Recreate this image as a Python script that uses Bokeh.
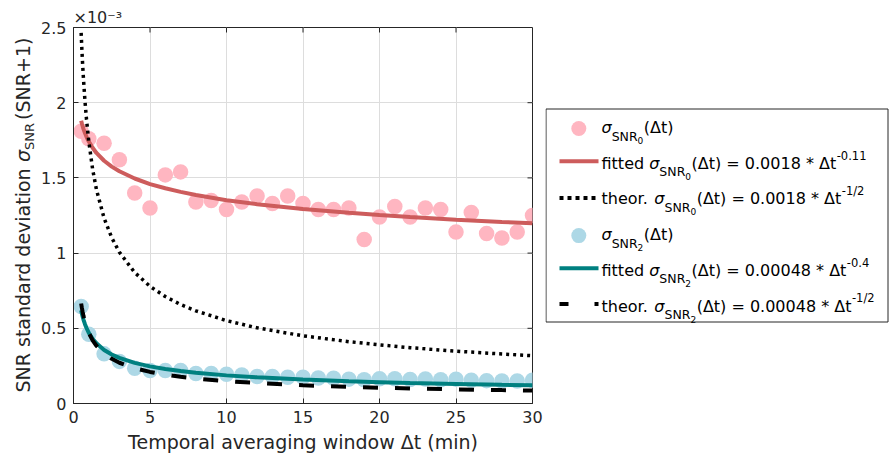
import math
from bokeh.plotting import figure
from bokeh.models import Range1d, FixedTicker
from bokeh.layouts import row
from bokeh.core.properties import value
from bokeh.embed import file_html
from bokeh.resources import INLINE

# ---------------- data (values in units of 1e-3) ----------------
t_pts = [0.5, 1, 2, 3, 4, 5, 6, 7, 8, 9, 10, 11, 12, 13, 14, 15, 16, 17, 18, 19, 20,
         21, 22, 23, 24, 25, 26, 27, 28, 29, 30]
snr0_pts = [1.81, 1.76, 1.73, 1.62, 1.40, 1.30, 1.52, 1.54, 1.34, 1.35, 1.29, 1.34, 1.38,
            1.33, 1.38, 1.33, 1.29, 1.29, 1.30, 1.09, 1.24, 1.31, 1.24, 1.30, 1.29, 1.14,
            1.27, 1.13, 1.10, 1.14, 1.25]
snr2_pts = [0.645, 0.46, 0.33, 0.28, 0.235, 0.22, 0.22, 0.22, 0.20, 0.20, 0.195, 0.19, 0.18,
            0.18, 0.175, 0.175, 0.17, 0.168, 0.162, 0.158, 0.165, 0.165, 0.16, 0.163, 0.158,
            0.162, 0.155, 0.152, 0.15, 0.15, 0.155]

t_curve = [0.5, 0.55, 0.6, 0.65, 0.75, 0.85, 1, 1.25, 1.5, 2, 2.5, 3, 4, 5, 6, 7, 8, 10,
           12, 15, 18, 20, 22, 25, 28, 30]
fit0_curve = [1.880, 1.861, 1.843, 1.826, 1.798, 1.773, 1.742, 1.700, 1.666, 1.614, 1.575,
              1.544, 1.496, 1.459, 1.431, 1.407, 1.386, 1.352, 1.325, 1.293, 1.268, 1.253,
              1.240, 1.222, 1.207, 1.198]
theo0_curve = [2.464, 2.349, 2.249, 2.161, 2.011, 1.889, 1.742, 1.558, 1.422, 1.232, 1.102,
               1.006, 0.871, 0.779, 0.711, 0.658, 0.616, 0.551, 0.503, 0.450, 0.411, 0.390,
               0.371, 0.348, 0.329, 0.318]
fit2_curve = [0.620, 0.597, 0.577, 0.558, 0.527, 0.502, 0.470, 0.430, 0.400, 0.356, 0.326,
              0.303, 0.270, 0.247, 0.230, 0.216, 0.205, 0.187, 0.174, 0.159, 0.148, 0.142,
              0.136, 0.130, 0.124, 0.121]
theo2_curve = [0.665, 0.634, 0.607, 0.583, 0.543, 0.510, 0.470, 0.420, 0.384, 0.332, 0.297,
               0.271, 0.235, 0.210, 0.192, 0.178, 0.166, 0.149, 0.136, 0.121, 0.111, 0.105,
               0.100, 0.094, 0.089, 0.086]

x_ticks = [0, 5, 10, 15, 20, 25, 30]
y_ticks = [0, 0.5, 1, 1.5, 2, 2.5]
y_tick_labels = ["0", "0.5", "1", "1.5", "2", "2.5"]
x_label = "Temporal averaging window Δt (min)"
exponent_label = "×10⁻³"

legend_rows = [
    ("", "0", "(Δt)", ""),
    ("fitted ", "0", "(Δt) = 0.0018 * Δt", "-0.11"),
    ("theor. ", "0", "(Δt) = 0.0018 * Δt", "-1/2"),
    ("", "2", "(Δt)", ""),
    ("fitted ", "2", "(Δt) = 0.00048 * Δt", "-0.4"),
    ("theor. ", "2", "(Δt) = 0.00048 * Δt", "-1/2"),
]

PINK = "#FFB6C1"
RED = "#CD5C5C"
LBLUE = "#ADD8E6"
TEAL = "#008080"
AX = "#262626"
FONT = "DejaVu Sans"

# ---------------- layout constants ----------------
H = 460
W_YL = 36                      # strip holding the rotated y label
FL, FR, FT, FB = 73, 532, 27, 403
W_MAIN = 545 - W_YL
W_LEG = 890 - 545
PX_X = (FR - FL) / 30.0
PX_Y = (FB - FT) / 2.5

# DejaVu Sans advance widths (em)
ADV = {' ': 0.318, '(': 0.390, ')': 0.390, '*': 0.500, '+': 0.838, '-': 0.361, '.': 0.318,
       '/': 0.337, '=': 0.838, 'N': 0.748, 'R': 0.695, 'S': 0.635, 'a': 0.613, 'c': 0.550,
       'd': 0.635, 'e': 0.615, 'f': 0.352, 'h': 0.634, 'i': 0.278, 'o': 0.612, 'r': 0.411,
       't': 0.392, 'Δ': 0.684, 'σ': 0.634, 'g': 0.635, 'n': 0.634, 's': 0.521, 'v': 0.592,
       '×': 0.838}
for d in "0123456789":
    ADV[d] = 0.636

def tw(s, size):
    return sum(ADV.get(c, 0.6) for c in s) * size

def bare(fig):
    fig.grid.visible = False
    fig.outline_line_color = None
    fig.background_fill_color = "white"
    fig.border_fill_color = "white"

# side figures share the main frame's vertical extent (FT..FB); their ranges map pixels
# ---------------- y-label strip ----------------
yl = figure(width=W_YL, height=H, x_range=Range1d(0, W_YL), y_range=Range1d(H - FB, H - FT),
            output_backend="svg", toolbar_location=None, x_axis_location=None,
            y_axis_location=None, min_border_left=0, min_border_right=0,
            min_border_top=FT, min_border_bottom=H - FB)
bare(yl)
YL_MAIN, YL_SUB = 19, 13
ypos = 392.0
base_x = 22.0
pieces = [("SNR standard deviation ", YL_MAIN, "normal", 0.0, 0.0),
          ("σ", YL_MAIN, "italic", 0.0, 0.0),
          ("SNR", YL_SUB, "normal", 7.0, 3.0),
          (" (SNR+1)", YL_MAIN, "normal", 0.0, 0.0)]
for txt, sz, st, dx, extra in pieces:
    yl.text(x=[base_x + dx], y=[H - ypos], text=[txt], angle=math.pi / 2,
            text_font=value(FONT), text_font_size=value(f"{sz}px"), text_font_style=st,
            text_color=AX, text_align="left", text_baseline="alphabetic")
    ypos -= tw(txt, sz) + extra

# ---------------- main figure ----------------
p = figure(width=W_MAIN, height=H, x_range=Range1d(0, 30), y_range=Range1d(0, 2.5),
           output_backend="svg", toolbar_location=None,
           min_border_left=FL - W_YL, min_border_right=545 - FR,
           min_border_top=FT, min_border_bottom=H - FB,
           title=exponent_label)
p.background_fill_color = "white"
p.border_fill_color = "white"
p.outline_line_color = AX
p.title.text_font = FONT
p.title.text_font_size = "16px"
p.title.text_font_style = "normal"
p.title.text_color = AX
p.title.align = "left"
p.title.standoff = 2
p.title.offset = 0

for ax in (p.xaxis[0], p.yaxis[0]):
    ax.major_tick_in = 5
    ax.major_tick_out = 0
    ax.minor_tick_line_color = None
    ax.axis_line_color = AX
    ax.major_tick_line_color = AX
    ax.major_label_text_color = AX
    ax.major_label_text_font = FONT
    ax.major_label_text_font_size = "16px"
    ax.major_label_standoff = 7

p.xaxis[0].ticker = FixedTicker(ticks=x_ticks)
p.yaxis[0].ticker = FixedTicker(ticks=y_ticks)
p.yaxis[0].major_label_overrides = {t: s for t, s in zip(y_ticks, y_tick_labels)}
p.xaxis[0].axis_label = x_label
p.xaxis[0].axis_label_text_font = FONT
p.xaxis[0].axis_label_text_font_size = "19px"
p.xaxis[0].axis_label_text_font_style = "normal"
p.xaxis[0].axis_label_text_color = AX
p.xaxis[0].axis_label_standoff = 5

p.xgrid.ticker = FixedTicker(ticks=x_ticks)
p.ygrid.ticker = FixedTicker(ticks=y_ticks)
p.grid.grid_line_color = "#DDDDDD"
p.grid.grid_line_width = 1

p.scatter(t_pts, snr0_pts, size=15.5, fill_color=PINK, line_color=None)
p.line(t_curve, fit0_curve, line_color=RED, line_width=4)
p.line(t_curve, theo0_curve, line_color="black", line_width=3.5, line_dash="3 4")
p.scatter(t_pts, snr2_pts, size=15.5, fill_color=LBLUE, line_color=None)
p.line(t_curve, fit2_curve, line_color=TEAL, line_width=4)
p.line(t_curve, theo2_curve, line_color="black", line_width=4, line_dash="15 17")

# mirrored inward ticks on the top and right edges (box style)
xt_in = x_ticks[1:-1]
yt_in = y_ticks[1:-1]
p.segment(x0=xt_in, y0=[2.5] * len(xt_in), x1=xt_in, y1=[2.5 - 5 / PX_Y] * len(xt_in),
          line_color=AX, line_width=1)
p.segment(x0=[30] * len(yt_in), y0=yt_in, x1=[30 - 5 / PX_X] * len(yt_in), y1=yt_in,
          line_color=AX, line_width=1)

# ---------------- legend figure ----------------
lf = figure(width=W_LEG, height=H, x_range=Range1d(545, 890), y_range=Range1d(FB, FT),
            output_backend="svg", toolbar_location=None, x_axis_location=None,
            y_axis_location=None, min_border_left=0, min_border_right=0,
            min_border_top=FT, min_border_bottom=H - FB)
bare(lf)

lf.quad(left=[545.5], right=[887.5], top=[108.5], bottom=[321.5], fill_color="white",
        line_color=AX, line_width=1)

baselines = [127 + 35.7 * i for i in range(6)]
LX0, LX1, MX = 559, 598, 578.3
lf.scatter([MX], [baselines[0] + 1], size=15, fill_color=PINK, line_color=None)
lf.line([LX0, LX1], [baselines[1] - 2] * 2, line_color=RED, line_width=4)
lf.line([LX0, LX1], [baselines[2] - 1] * 2, line_color="black", line_width=4, line_dash="4 4")
lf.scatter([MX], [baselines[3] + 1], size=15, fill_color=LBLUE, line_color=None)
lf.line([LX0, LX1], [baselines[4] - 2] * 2, line_color=TEAL, line_width=4)
lf.line([LX0, LX1], [baselines[5] - 2] * 2, line_color="black", line_width=4, line_dash="9 26")

MS, SS, SSS, SUP = 16, 12.5, 9, 11.5
groups = {}
def put(x, y, t, size, style="normal"):
    groups.setdefault((size, style), ([], [], []))
    g = groups[(size, style)]
    g[0].append(x); g[1].append(y); g[2].append(t)

for (prefix, idx, rest, sup), b in zip(legend_rows, baselines):
    x = 601.0
    if prefix:
        put(x, b, prefix, MS)
        x += tw(prefix, MS)
    put(x, b, "σ", MS, "italic")
    x += tw("σ", MS)
    put(x, b + 8.5, "SNR", SS)
    x += tw("SNR", SS)
    put(x, b + 13, idx, SSS)
    x += tw(idx, SSS) + 0.5
    put(x, b, rest, MS)
    x += tw(rest, MS)
    if sup:
        put(x + 0.5, b - 8, sup, SUP)

for (size, style), (xs, ys, ts) in groups.items():
    lf.text(x=xs, y=ys, text=ts, text_font=value(FONT), text_font_size=value(f"{size}px"),
            text_font_style=style, text_color="black", text_align="left",
            text_baseline="alphabetic")

layout = row(yl, p, lf)
open("out.html", "w").write(file_html(layout, INLINE))
